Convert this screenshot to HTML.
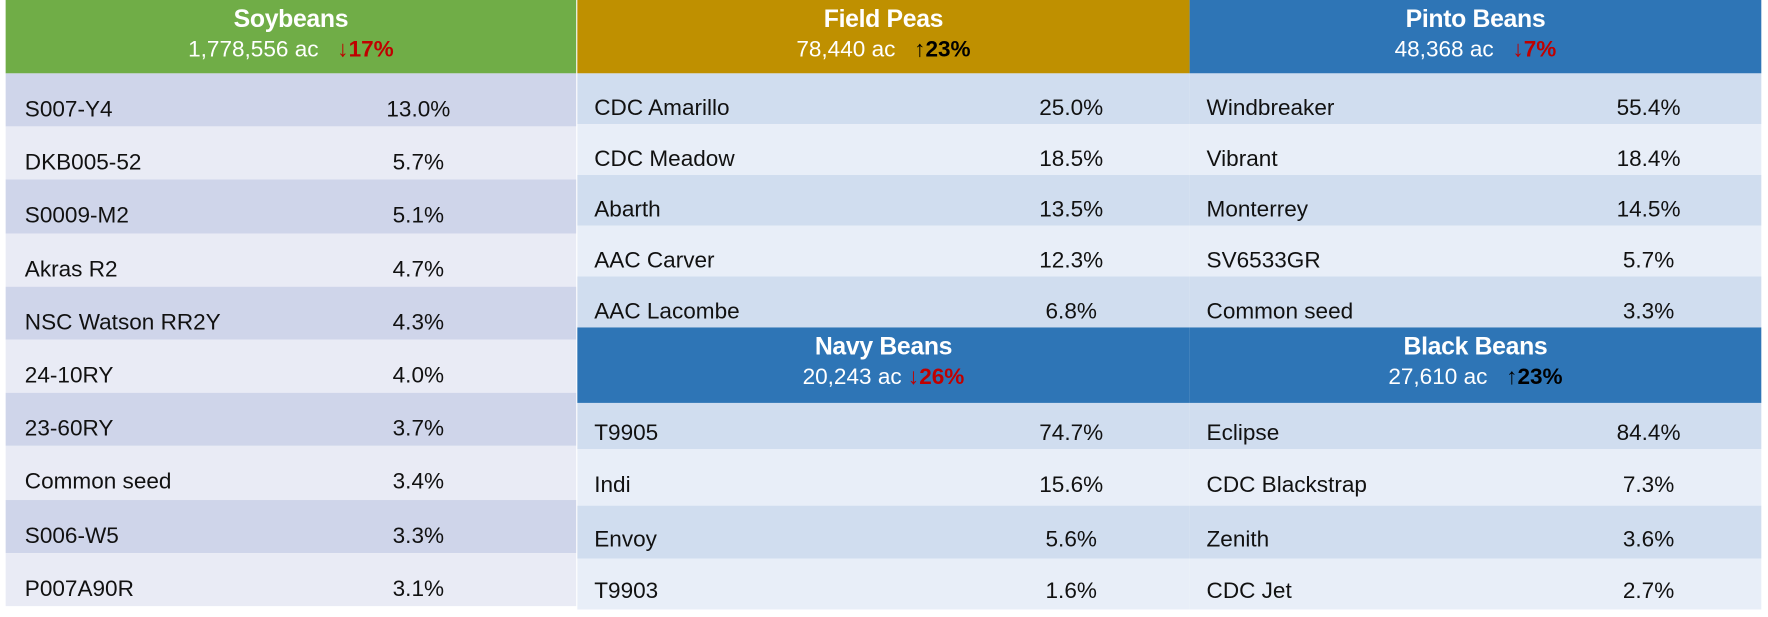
<!DOCTYPE html>
<html><head><meta charset="utf-8">
<style>
html,body{margin:0;padding:0;background:#fff;width:1768px;height:614px;overflow:hidden}
#wrap{position:absolute;left:0;top:0;width:1568px;height:544px;transform-origin:0 0;transform:scale(1.1276,1.1287);font-family:"Liberation Sans",sans-serif;}
.hdr{position:absolute;color:#fff;text-align:center;box-sizing:border-box}
.hdr .t{font-weight:bold;font-size:22px;line-height:26px;margin-top:4px;letter-spacing:-0.3px}
.hdr .s{font-size:20px;line-height:28px}
.dn{color:#c00000;font-weight:bold}
.up{color:#000;font-weight:bold}
.row{position:absolute;font-size:20px;color:#111;box-sizing:border-box}
.row .n{position:absolute}
.row .v{position:absolute;text-align:center;width:120px}
</style></head><body>
<div id="wrap">
<div class="hdr" style="left:5px;top:0;width:506px;height:65px;background:#70ad47"><div class="t">Soybeans</div><div class="s">1,778,556 ac &nbsp; <span class="dn">↓17%</span></div></div>
<div class="hdr" style="left:512px;top:0;width:543px;height:65px;background:#bf9000"><div class="t">Field Peas</div><div class="s">78,440 ac &nbsp; <span class="up">↑23%</span></div></div>
<div class="hdr" style="left:1055px;top:0;width:507px;height:65px;background:#2e75b6"><div class="t">Pinto Beans</div><div class="s">48,368 ac &nbsp; <span class="dn">↓7%</span></div></div>
<div class="hdr" style="left:512px;top:290px;width:543px;height:67px;background:#2e75b6"><div class="t">Navy Beans</div><div class="s">20,243 ac <span class="dn">↓26%</span></div></div>
<div class="hdr" style="left:1055px;top:290px;width:507px;height:67px;background:#2e75b6"><div class="t">Black Beans</div><div class="s">27,610 ac &nbsp; <span class="up">↑23%</span></div></div>
<div id="rows"></div>
</div>
<script>
const soyNames=["S007-Y4","DKB005-52","S0009-M2","Akras R2","NSC Watson RR2Y","24-10RY","23-60RY","Common seed","S006-W5","P007A90R"];
const soyVals=["13.0%","5.7%","5.1%","4.7%","4.3%","4.0%","3.7%","3.4%","3.3%","3.1%"];
const peaNames=["CDC Amarillo","CDC Meadow","Abarth","AAC Carver","AAC Lacombe"];
const peaVals=["25.0%","18.5%","13.5%","12.3%","6.8%"];
const pintoNames=["Windbreaker","Vibrant","Monterrey","SV6533GR","Common seed"];
const pintoVals=["55.4%","18.4%","14.5%","5.7%","3.3%"];
const navyNames=["T9905","Indi","Envoy","T9903"];
const navyVals=["74.7%","15.6%","5.6%","1.6%"];
const blackNames=["Eclipse","CDC Blackstrap","Zenith","CDC Jet"];
const blackVals=["84.4%","7.3%","3.6%","2.7%"];
const host=document.getElementById('rows');
function block(names,vals,x,w,y0,hs,tx,vx,dark,light,prefix,shift){
  let y=y0;
  names.forEach((n,i)=>{
    const rh=hs[i];
    const r=document.createElement('div');
    r.className='row';
    
    
    r.style.left=x+'px';r.style.width=w+'px';
    r.style.top=y+'px';r.style.height=rh+'px';
    r.style.background=i%2===0?dark:light;
    r.style.lineHeight=rh+'px';
    const a=document.createElement('span');a.className='n';a.style.left=tx+'px';a.style.top=shift+'px';a.textContent=n;
    
    
    const b=document.createElement('span');b.className='v';b.style.left=(vx-60)+'px';b.style.top=shift+'px';b.textContent=vals[i];
    
    
    r.appendChild(a);r.appendChild(b);host.appendChild(r);
    y+=rh;
  });
}
const soyH=[47.2,47.2,47.2,47.2,47.2,47.2,47.2,47.2,47.2,47.2];
const topH=[45,45,45,45,45];
const botH=[41,50,47,45];
block(soyNames,soyVals,5,506,65,soyH,17,366,"#cfd5ea","#e9ebf5","soybeans",9);
block(peaNames,peaVals,512,543,65,topH,15,438,"#d0ddef","#e8eef8","field-peas",9);
block(pintoNames,pintoVals,1055,507,65,topH,15,407,"#d0ddef","#e8eef8","pinto-beans",9);
block(navyNames,navyVals,512,543,357,botH,15,438,"#d0ddef","#e8eef8","navy-beans",7);
block(blackNames,blackVals,1055,507,357,botH,15,407,"#d0ddef","#e8eef8","black-beans",7);
</script>
</body></html>
